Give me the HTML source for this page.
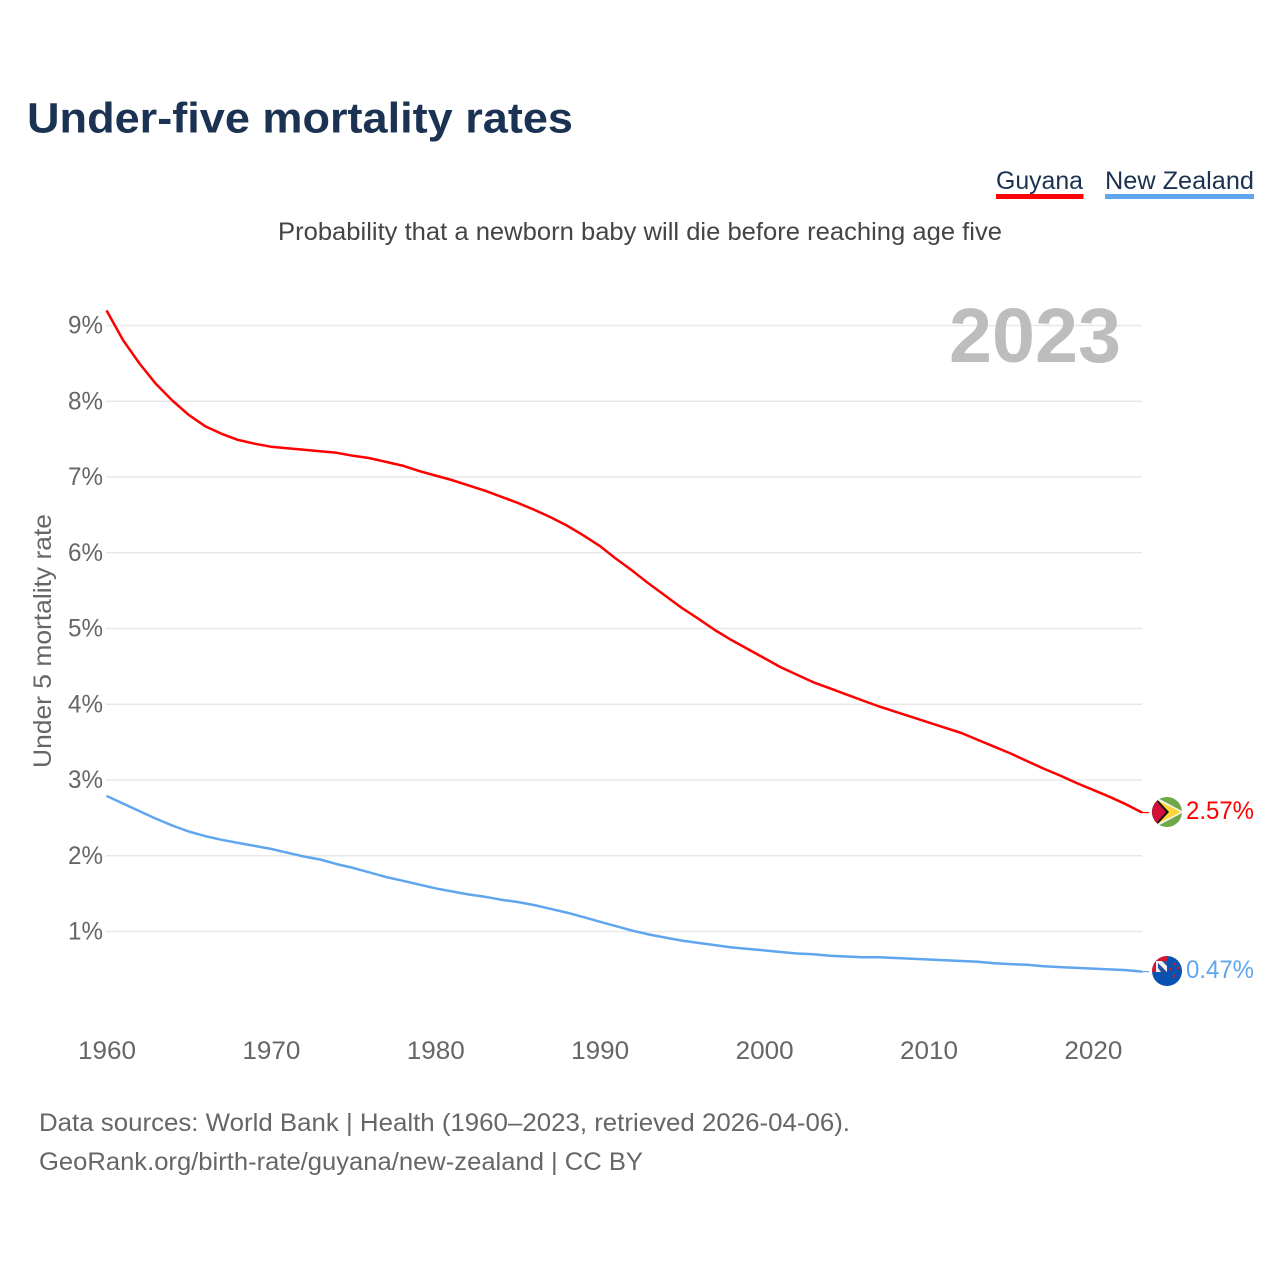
<!DOCTYPE html>
<html lang="en">
<head>
<meta charset="utf-8">
<title>Under-five mortality rates</title>
<style>
html,body{margin:0;padding:0;background:#fff;}
svg{display:block;font-family:"Liberation Sans",sans-serif;}
text{font-family:"Liberation Sans",sans-serif;}
</style>
</head>
<body>
<svg id="chart" width="1280" height="1280" viewBox="0 0 1280 1280" xmlns="http://www.w3.org/2000/svg">
  <defs>
    <clipPath id="clip-gy"><circle cx="1167" cy="812" r="15"/></clipPath>
    <clipPath id="clip-nz"><circle cx="1167" cy="971" r="15"/></clipPath>
  </defs>
  <rect width="1280" height="1280" fill="#fff"/>
  <text x="27" y="132.500" font-size="43" font-weight="700" fill="#1b3252" textLength="546" lengthAdjust="spacingAndGlyphs">Under-five mortality rates</text>
  <g>
    <g>
      <text x="996" y="189" font-size="25" fill="#1b3252" textLength="87" lengthAdjust="spacingAndGlyphs">Guyana</text>
      <rect x="996" y="194" width="87.500" height="5" fill="#ff0000"/>
    </g>
    <g>
      <text x="1105" y="189" font-size="25" fill="#1b3252" textLength="149" lengthAdjust="spacingAndGlyphs">New Zealand</text>
      <rect x="1105" y="194" width="149" height="5" fill="#5fa6ee"/>
    </g>
  </g>
  <text x="278" y="240" font-size="25" fill="#444" textLength="724" lengthAdjust="spacingAndGlyphs">Probability that a newborn baby will die before reaching age five</text>
  <g id="grid"></g>
  <g id="yticks"></g>
  <g id="xticks"></g>
  <text transform="translate(51,768) rotate(-90)" x="0" y="0" font-size="25" fill="#666" textLength="254" lengthAdjust="spacingAndGlyphs">Under 5 mortality rate</text>
  <text x="949" y="362" font-size="77" font-weight="700" fill="#bdbdbd" textLength="172" lengthAdjust="spacingAndGlyphs">2023</text>
  <g id="series"></g>
  <g clip-path="url(#clip-gy)">
    <rect x="1150" y="795" width="34" height="34" fill="#6fa84a"/>
    <polygon points="1150,794 1184,812 1150,830" fill="#f4f4f4"/>
    <polygon points="1150,796.500 1181,812 1150,827.500" fill="#fdd835"/>
    <polygon points="1150,795 1153,795 1169,812 1153,829 1150,829" fill="#111"/>
    <polygon points="1150,797 1153,797 1166,812 1153,827 1150,827" fill="#d0103a"/>
  </g>
  <g clip-path="url(#clip-nz)">
    <rect x="1150" y="954" width="34" height="34" fill="#0a52b0"/>
    <rect x="1150" y="954" width="17" height="18" fill="#eeeef6"/>
    <rect x="1150" y="955" width="17" height="6" fill="#d8152f"/>
    <rect x="1152" y="955" width="4" height="17" fill="#d8152f"/>
    <polygon points="1158,963 1167,972 1161,972 1158,968" fill="#2a4f9c"/>
    <polygon points="1162,961 1167,961 1167,966" fill="#2a4f9c"/>
    <circle cx="1174" cy="964" r="1.300" fill="#d8152f"/>
    <circle cx="1170" cy="969" r="1.300" fill="#d8152f"/>
    <circle cx="1178" cy="968" r="1.300" fill="#d8152f"/>
    <circle cx="1174" cy="976" r="1.300" fill="#d8152f"/>
  </g>
  <text id="label-gy" x="1186" y="819" font-size="25" fill="#ff0000" textLength="68" lengthAdjust="spacingAndGlyphs"></text>
  <text id="label-nz" x="1186" y="978" font-size="25" fill="#5fa6ee" textLength="68" lengthAdjust="spacingAndGlyphs"></text>
  <g>
    <text x="39" y="1131" font-size="25" fill="#666" textLength="811" lengthAdjust="spacingAndGlyphs">Data sources: World Bank | Health (1960–2023, retrieved 2026-04-06).</text>
    <text x="39" y="1170" font-size="25" fill="#666" textLength="604" lengthAdjust="spacingAndGlyphs">GeoRank.org/birth-rate/guyana/new-zealand | CC BY</text>
  </g>
</svg>
<script>
const startYear = 1960;
const guyana = [9.20,8.81,8.50,8.23,8.01,7.82,7.67,7.57,7.49,7.44,7.40,7.38,7.36,7.34,7.32,7.28,7.25,7.20,7.15,7.08,7.02,6.96,6.89,6.82,6.74,6.66,6.57,6.47,6.36,6.23,6.09,5.92,5.76,5.59,5.43,5.27,5.13,4.98,4.85,4.73,4.61,4.49,4.39,4.29,4.21,4.13,4.05,3.97,3.90,3.83,3.76,3.69,3.62,3.53,3.44,3.35,3.25,3.15,3.06,2.96,2.87,2.78,2.68,2.57];
const newZealand = [2.79,2.69,2.59,2.49,2.40,2.32,2.26,2.21,2.17,2.13,2.09,2.04,1.99,1.95,1.89,1.84,1.78,1.72,1.67,1.62,1.57,1.53,1.49,1.46,1.42,1.39,1.35,1.30,1.25,1.19,1.13,1.07,1.01,0.96,0.92,0.88,0.85,0.82,0.79,0.77,0.75,0.73,0.71,0.70,0.68,0.67,0.66,0.66,0.65,0.64,0.63,0.62,0.61,0.60,0.58,0.57,0.56,0.54,0.53,0.52,0.51,0.50,0.49,0.47];
const yTickValues = [1,2,3,4,5,6,7,8,9];
const xTickValues = [1960,1970,1980,1990,2000,2010,2020];

const NS = 'http://www.w3.org/2000/svg';
function xScale(year){ return 106.5 + (year - 1960) * 16.44; }
function yScale(v){ return 1007.25 - v * 75.75; }
function make(tag, attrs, parent){
  const el = document.createElementNS(NS, tag);
  for (const k in attrs) el.setAttribute(k, attrs[k]);
  parent.appendChild(el);
  return el;
}
const grid = document.getElementById('grid');
const yticks = document.getElementById('yticks');
const xticks = document.getElementById('xticks');
const series = document.getElementById('series');

yTickValues.forEach(function(v){
  const line = make('line', {x1:106, x2:1142, y1:yScale(v), y2:yScale(v), stroke:'#e8e8e8', 'stroke-width':1.5}, grid);
  
  
  const t = make('text', {x:103, y:yScale(v)+8, 'font-size':25, fill:'#666', 'text-anchor':'end', textLength:35, lengthAdjust:'spacingAndGlyphs'}, yticks);
  
  
  t.textContent = v + '%';
});
xTickValues.forEach(function(y){
  const t = make('text', {x:xScale(y)+0.5, y:1059, 'font-size':25, fill:'#666', 'text-anchor':'middle', textLength:58, lengthAdjust:'spacingAndGlyphs'}, xticks);
  
  
  t.textContent = y;
});
function drawSeries(values, color, name){
  const pts = values.map(function(v,i){ return xScale(startYear+i).toFixed(1)+','+yScale(v).toFixed(1); });
  const p = make('polyline', {points:pts.join(' '), fill:'none', stroke:color, 'stroke-width':2.5, 'stroke-linejoin':'round'}, series);
  
  
  const lastIdx = values.length - 1;
  const c = make('line', {x1:xScale(startYear+lastIdx), x2:1149, y1:yScale(values[lastIdx]), y2:yScale(values[lastIdx]), stroke:color, 'stroke-width':1.2}, series);
  
  
}
drawSeries(guyana, '#ff0000', 'line-guyana');
drawSeries(newZealand, '#5fa6ee', 'line-new-zealand');
document.getElementById('label-gy').textContent = guyana[guyana.length-1].toFixed(2) + '%';
document.getElementById('label-nz').textContent = newZealand[newZealand.length-1].toFixed(2) + '%';
</script>
</body>
</html>
